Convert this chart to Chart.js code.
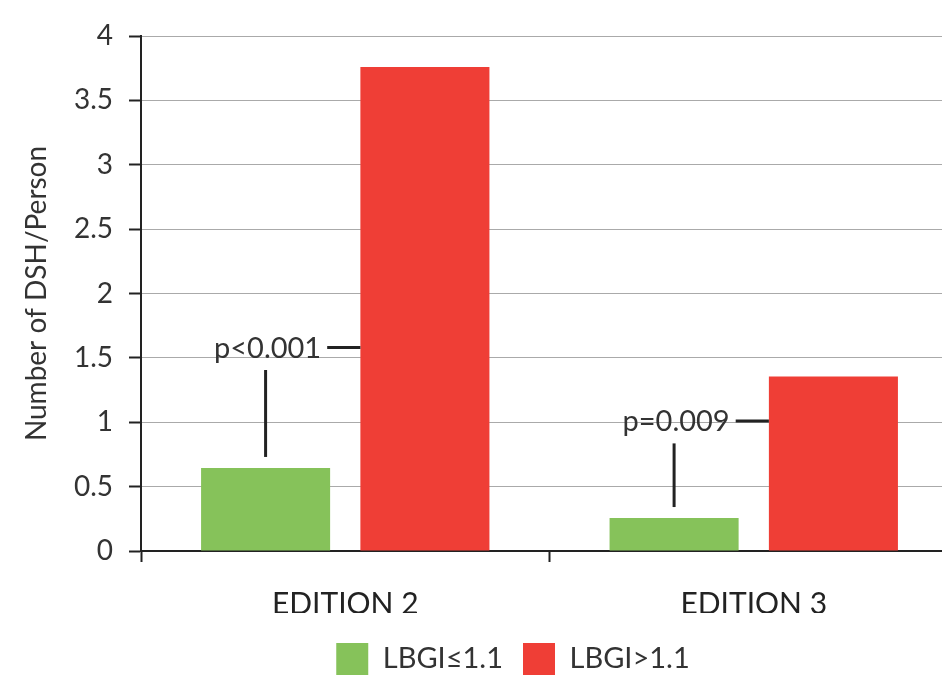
<!DOCTYPE html>
<html>
<head>
<meta charset="utf-8">
<script src="https://cdn.jsdelivr.net/npm/chart.js@4"></script>
<style>
html, body { margin: 0; padding: 0; background: #fff; overflow: hidden; }
#wrap { width: 958px; height: 675px; }
</style>
</head>
<body>
<div id="wrap"><canvas id="grafico"></canvas></div>
<script>
const categorias = ['EDITION 2', 'EDITION 3']
const lbgiBaixo  = [0.645, 0.256]
const lbgiAlto   = [3.76, 1.355]
const rotulosP   = ['p<0.001', 'p=0.009']
const nivelP     = [1.58, 1.01]
const legendas   = ['LBGI≤1.1', 'LBGI>1.1']

const fonte = 'Lato, "Open Sans", sans-serif'

// texto do p + tracos ligando as barras
const anotacoes = {
    id: 'anotacoes',
    afterDatasetsDraw(chart) {
        const ctx = chart.ctx
        const y = chart.scales.y
        const verdes = chart.getDatasetMeta(0).data
        const vermelhos = chart.getDatasetMeta(1).data
        const tam = 29
        ctx.save()
        ctx.font = `${tam}px ${fonte}`
        ctx.fillStyle = '#333'
        ctx.strokeStyle = '#222'
        ctx.lineWidth = 3
        ctx.textAlign = 'center'
        ctx.textBaseline = 'alphabetic'
        rotulosP.forEach((txt, i) => {
            const verde = verdes[i]
            const verm = vermelhos[i]
            const ty = y.getPixelForValue(nivelP[i])
            const base = ty + tam * 0.36
            ctx.fillText(txt, verde.x + 2, base)
            const w = ctx.measureText(txt).width
            ctx.beginPath()
            ctx.moveTo(verde.x + 2 + w / 2 + 6, ty)
            ctx.lineTo(verm.x - verm.width / 2, ty)
            ctx.stroke()
            ctx.beginPath()
            ctx.moveTo(verde.x, base + 12)
            ctx.lineTo(verde.x, verde.y - 11)
            ctx.stroke()
        })
        ctx.restore()
    }
}

// legenda um pouco deslocada como no original
const ajusteLegenda = {
    id: 'ajusteLegenda',
    afterLayout(chart) {
        const lg = chart.legend
        lg.left += 34; lg.right += 34
        lg.top += 10; lg.bottom += 10
    }
}

new Chart(document.getElementById('grafico'), {
    type: 'bar',
    data: {
        labels: categorias,
        datasets: [
            { label: legendas[0], data: lbgiBaixo, backgroundColor: '#86c25a', categoryPercentage: 0.78, barPercentage: 0.81 },
            { label: legendas[1], data: lbgiAlto, backgroundColor: '#ef3e36', categoryPercentage: 0.78, barPercentage: 0.81 }
        ]
    },
    options: {
        responsive: true,
        maintainAspectRatio: false,
        animation: false,
        layout: { padding: { top: 36 } },
        plugins: {
            tooltip: { enabled: false },
            legend: {
                position: 'bottom',
                labels: { boxWidth: 32, boxHeight: 32, padding: 20, color: '#333', font: { family: fonte, size: 29 } }
            }
        },
        scales: {
            x: {
                grid: { offset: true, drawOnChartArea: false, tickLength: 11, tickColor: '#222', tickWidth: 2 },
                border: { color: '#222', width: 2 },
                ticks: { color: '#222', padding: 24, font: { family: fonte, size: 30 } },
                afterFit(s) { s.height = 62 }
            },
            y: {
                min: 0, max: 4,
                ticks: { stepSize: 0.5, color: '#333', padding: 16, font: { family: fonte, size: 28 }, callback: v => `${v}` },
                grid: { color: '#aaa', lineWidth: 1, tickColor: '#222', tickLength: 12, tickWidth: 2 },
                border: { color: '#222', width: 2 },
                title: { display: true, text: 'Number of DSH/Person', color: '#333', padding: { top: 20, bottom: 0 }, font: { family: fonte, size: 28 } },
                afterFit(s) { s.width = 141 }
            }
        }
    },
    plugins: [anotacoes, ajusteLegenda]
})
</script>
</body>
</html>
